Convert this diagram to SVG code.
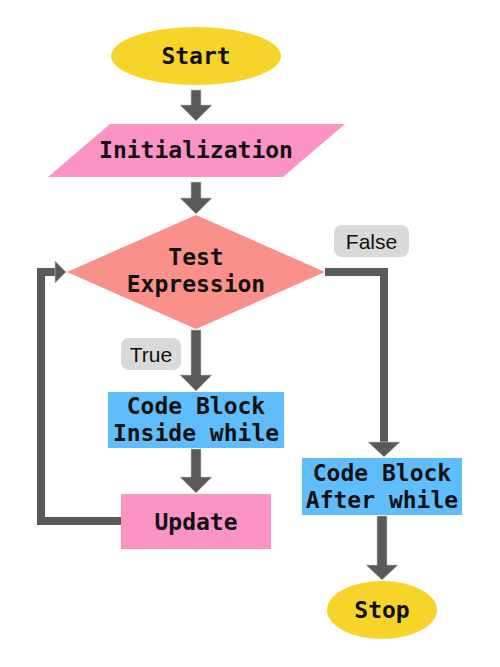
<svg xmlns="http://www.w3.org/2000/svg" width="500" height="667" viewBox="0 0 500 667">
<style>
.t{font-family:"DejaVu Sans Mono","Liberation Mono",monospace;font-weight:bold;font-size:23px;fill:#111;text-anchor:middle}
.l{font-family:"Liberation Sans",Arial,sans-serif;font-size:21px;fill:#111;text-anchor:middle}
.ar{fill:#5a5a5a;stroke:#c8c8c8;stroke-width:0.6}
.ln{fill:none;stroke:#5a5a5a;stroke-width:8}
.lb{fill:#d9d9d9}
</style>
<rect width="500" height="667" fill="#fff"/>
<g id="connectors">
<polygon class="ar" points="191,90 201,90 201,105 212,105 196,121 180,105 191,105"/>
<polygon class="ar" points="191,182 201,182 201,198 212,198 196,214 180,198 191,198"/>
<polygon class="ar" points="191,330 201,330 201,375 212,375 196,391 180,375 191,375"/>
<polygon class="ar" points="191,449 201,449 201,477 212,477 196,493 180,477 191,477"/>
<polyline class="ln" points="325,272 384,272 384,443"/>
<polygon class="ar" points="379,442 389,442 400,442 384,457 368,442"/>
<polygon class="ar" points="377,516 387,516 387,565 398,565 382,580 366,565 377,565"/>
<polyline class="ln" points="121,521 41,521 41,272 57,272"/>
<polygon class="ar" points="55,261 66,272 55,283"/>
</g>
<g id="label-false"><rect class="lb" x="334" y="225" width="75" height="32" rx="8"/><text class="l" x="371.5" y="249">False</text></g>
<g id="label-true"><rect class="lb" x="121" y="338" width="60" height="32" rx="8"/><text class="l" x="151" y="362">True</text></g>
<g id="start"><ellipse cx="196" cy="56" rx="85" ry="29" fill="#f7d42a"/><text class="t" x="196" y="64">Start</text></g>
<g id="init"><polygon points="110,124 345,124 283,177 48,177" fill="#fb93c5"/><text class="t" x="196" y="158">Initialization</text></g>
<g id="test"><polygon points="196,215 325,272 196,329 67,272" fill="#fa908a"/><text class="t" x="196" y="265">Test</text><text class="t" x="196" y="292">Expression</text></g>
<g id="inside"><rect x="108" y="392" width="176" height="56" fill="#5ebdfa"/><text class="t" x="196" y="414">Code Block</text><text class="t" x="196" y="441">Inside while</text></g>
<g id="update"><rect x="121" y="494" width="150" height="55" fill="#fb93c5"/><text class="t" x="196" y="530">Update</text></g>
<g id="after"><rect x="302" y="458" width="160" height="57" fill="#5ebdfa"/><text class="t" x="382" y="481">Code Block</text><text class="t" x="382" y="508">After while</text></g>
<g id="stop"><ellipse cx="382" cy="610" rx="55" ry="29" fill="#f7d42a"/><text class="t" x="382" y="618">Stop</text></g>
</svg>
